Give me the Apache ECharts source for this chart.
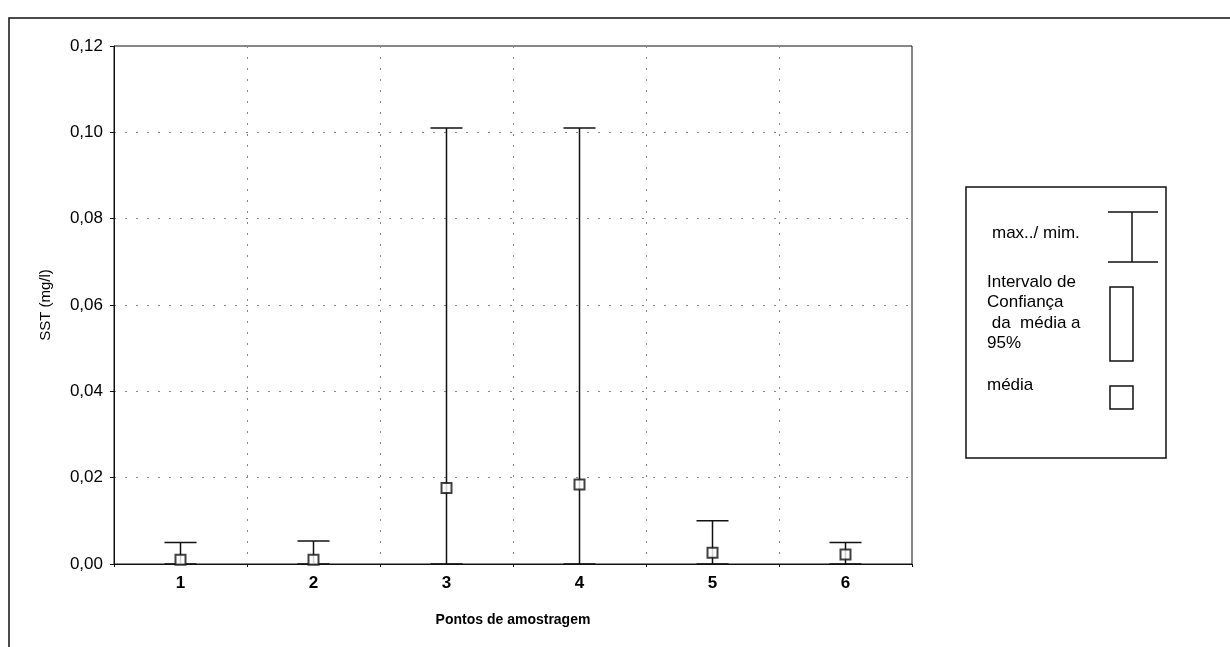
<!DOCTYPE html>
<html><head><meta charset="utf-8">
<script src="https://cdn.jsdelivr.net/npm/echarts@6/dist/echarts.min.js"></script>
<style>html,body{margin:0;padding:0;background:#fff}#c{width:1230px;height:647px}</style>
</head><body><div id="c"></div>
<script>
const categories = ['1','2','3','4','5','6'];
const maxValues  = [0.005, 0.0053, 0.101, 0.101, 0.0100, 0.0050];
const minValues  = [0, 0, 0, 0, 0, 0];
const meanValues = [0.0010, 0.0010, 0.0176, 0.0184, 0.0026, 0.0022];
const yTicks = [0, 0.02, 0.04, 0.06, 0.08, 0.10, 0.12];

const FONT = 'Liberation Sans, Arial, sans-serif';
const chart = echarts.init(document.getElementById('c'));
const errData = categories.map((c, i) => [i, minValues[i], maxValues[i]]);

chart.setOption({
  animation: false,
  backgroundColor: '#fff',
  grid: { left: 114, top: 46, right: 318, bottom: 83, show: true, borderColor: '#111', borderWidth: 1 },
  xAxis: {
    type: 'category', data: categories, boundaryGap: true,
    name: 'Pontos de amostragem', nameLocation: 'middle', nameGap: 49,
    nameTextStyle: { fontFamily: FONT, fontSize: 14, color: '#000', fontWeight: 'bold' },
    axisLine: { lineStyle: { color: '#111', width: 1 } },
    axisTick: { show: true, length: 3, lineStyle: { color: '#111' } },
    axisLabel: { fontFamily: FONT, fontSize: 17, color: '#000', fontWeight: 'bold', margin: 11 },
    splitLine: { show: true, lineStyle: { color: '#888', type: [2, 9], width: 1 } }
  },
  yAxis: {
    type: 'value', min: 0, max: 0.12, interval: 0.02,
    name: 'SST (mg/l)', nameLocation: 'middle', nameGap: 61, nameRotate: 90,
    nameTextStyle: { fontFamily: FONT, fontSize: 15, color: '#000' },
    axisLine: { show: true, lineStyle: { color: '#111', width: 1 } },
    axisTick: { show: true, length: 4, lineStyle: { color: '#111' } },
    axisLabel: { fontFamily: FONT, fontSize: 17, color: '#000', margin: 11,
      formatter: v => { const t = yTicks.find(x => Math.abs(x - v) < 1e-9); return (t !== undefined ? t : v).toFixed(2).replace('.', ','); } },
    splitLine: { show: true, lineStyle: { color: '#888', type: [2, 9], width: 1 } }
  },
  series: [
    {
      type: 'custom', data: errData, z: 2,
      renderItem: (params, api) => {
        const x = api.value(0);
        const lo = api.coord([x, api.value(1)]);
        const hi = api.coord([x, api.value(2)]);
        const hw = 16;
        const st = { stroke: '#111', lineWidth: 1.5 };
        return { type: 'group', children: [
          { type: 'line', shape: { x1: hi[0], y1: hi[1], x2: lo[0], y2: lo[1] }, style: st },
          { type: 'line', shape: { x1: hi[0] - hw, y1: hi[1], x2: hi[0] + hw, y2: hi[1] }, style: st },
          { type: 'line', shape: { x1: lo[0] - hw, y1: lo[1], x2: lo[0] + hw, y2: lo[1] }, style: st }
        ]};
      }
    },
    {
      type: 'scatter', data: meanValues, z: 3,
      symbol: 'rect', symbolSize: 10,
      itemStyle: { color: '#fff', borderColor: '#111', borderWidth: 2 }
    }
  ],
  graphic: [
    { type: 'polyline', shape: { points: [[1230, 18], [9, 18], [9, 647]] }, style: { stroke: '#111', lineWidth: 1.5, fill: null } },
    { type: 'rect', shape: { x: 966, y: 187, width: 200, height: 271 }, style: { stroke: '#111', lineWidth: 1.5, fill: '#fff' } },
    { type: 'text', x: 992, y: 233, style: { text: 'max../ mim.', fontFamily: FONT, fontSize: 17, fill: '#000', verticalAlign: 'middle' } },
    { type: 'line', shape: { x1: 1108, y1: 212, x2: 1158, y2: 212 }, style: { stroke: '#111', lineWidth: 1.5 } },
    { type: 'line', shape: { x1: 1108, y1: 262, x2: 1158, y2: 262 }, style: { stroke: '#111', lineWidth: 1.5 } },
    { type: 'line', shape: { x1: 1132, y1: 212, x2: 1132, y2: 262 }, style: { stroke: '#111', lineWidth: 1.5 } },
    { type: 'text', x: 987, y: 272, style: { text: 'Intervalo de\nConfiança\n da  média a\n95%', fontFamily: FONT, fontSize: 17, lineHeight: 20.5, fill: '#000' } },
    { type: 'rect', shape: { x: 1110, y: 287, width: 23, height: 74 }, style: { stroke: '#111', lineWidth: 1.5, fill: '#fff' } },
    { type: 'text', x: 987, y: 385, style: { text: 'média', fontFamily: FONT, fontSize: 17, fill: '#000', verticalAlign: 'middle' } },
    { type: 'rect', shape: { x: 1110, y: 386, width: 23, height: 23 }, style: { stroke: '#111', lineWidth: 1.5, fill: '#fff' } }
  ]
});
</script></body></html>
